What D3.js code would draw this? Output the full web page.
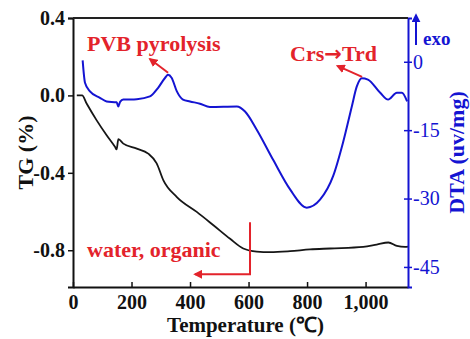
<!DOCTYPE html>
<html>
<head>
<meta charset="utf-8">
<script src="https://cdn.jsdelivr.net/npm/d3@7"></script>
<style>
  body { margin: 0; background: #fff; }
  svg text { font-family: "Liberation Serif", "Times New Roman", serif; }
</style>
</head>
<body>
<svg id="chart" width="470" height="339"></svg>
<script>
// TG curve (temperature, %)
let tgTemp = [13, 31, 47, 81, 115, 144, 149, 155, 172, 218, 257, 286, 309, 355, 423, 480, 537, 582, 628, 674, 742, 810, 879, 992, 1038, 1078, 1107, 1135, 1145];
let tgVal  = [0, 0, -0.043, -0.129, -0.206, -0.267, -0.279, -0.226, -0.249, -0.275, -0.301, -0.351, -0.439, -0.525, -0.602, -0.671, -0.741, -0.791, -0.807, -0.810, -0.805, -0.796, -0.791, -0.783, -0.771, -0.760, -0.778, -0.783, -0.781];

// DTA curve (temperature, uv/mg)
let dtaTemp = [33, 41, 58, 92, 115, 149, 155, 161, 172, 218, 263, 291, 315, 325, 337, 355, 376, 400, 434, 468, 560, 588, 628, 684, 742, 799, 845, 889, 923, 953, 970, 987, 1008, 1050, 1077, 1107, 1124, 1142];
let dtaVal  = [0.3, -4.6, -6.5, -7.9, -8.7, -8.9, -9.8, -8.8, -8.3, -8.2, -7.6, -5.7, -3.5, -2.85, -3.5, -6.5, -8.3, -8.7, -9.2, -9.9, -9.8, -10.9, -14.9, -21.5, -28.0, -32.0, -30.2, -25.1, -17.7, -9.8, -5.4, -3.6, -3.9, -6.8, -8.3, -6.8, -6.8, -8.7];

let xTicks = [0, 200, 400, 600, 800, 1000];
let tgTicks = [0.4, 0.0, -0.4, -0.8];
let dtaTicks = [0, -15, -30, -45];

let red = "#e3232b", blue = "#1414d2";
let margin = {top: 18, right: 62, bottom: 52, left: 73};
let width = 470 - margin.left - margin.right;
let height = 339 - margin.top - margin.bottom;

let x = d3.scaleLinear().domain([0, 1145]).range([0, width]);
let yTG = d3.scaleLinear().domain([-0.99, 0.4]).range([height, 0]);
let yDTA = d3.scaleLinear().domain([-49.4, 9.6]).range([height, 0]);

let svg = d3.select("svg#chart");
svg.append("defs").selectAll("marker")
  .data([["redHead", red], ["blueHead", blue]])
  .enter().append("marker")
    .attr("id", function(d) { return d[0]; })
    .attr("viewBox", "0 0 10 10")
    .attr("refX", 8).attr("refY", 5)
    .attr("markerWidth", 4.5).attr("markerHeight", 4.5)
    .attr("orient", "auto")
  .append("path")
    .attr("d", "M0,0 L10,5 L0,10 Z")
    .attr("fill", function(d) { return d[1]; });

let g = svg.append("g").attr("transform", "translate(" + margin.left + "," + margin.top + ")");

// curves
let tgData = tgTemp.map(function(t, i) { return [t, tgVal[i]]; });
let dtaData = dtaTemp.map(function(t, i) { return [t, dtaVal[i]]; });

g.append("path").datum(tgData)
  .attr("fill", "none").attr("stroke", "#161616").attr("stroke-width", 1.8)
  .attr("d", d3.line().curve(d3.curveMonotoneX)
    .x(function(d) { return x(d[0]); }).y(function(d) { return yTG(d[1]); }));

g.append("path").datum(dtaData)
  .attr("fill", "none").attr("stroke", blue).attr("stroke-width", 2)
  .attr("d", d3.line().curve(d3.curveMonotoneX)
    .x(function(d) { return x(d[0]); }).y(function(d) { return yDTA(d[1]); }));

// axes (hyphen minus like the original)
let fmtTG = function(d) { return d3.format(".1f")(d).replace("\u2212", "-"); };
let fmtDTA = function(d) { return d3.format("d")(d).replace("\u2212", "-"); };

let xAxis = g.append("g").attr("transform", "translate(0," + height + ")")
  .call(d3.axisBottom(x).tickValues(xTicks).tickSizeInner(-5).tickSizeOuter(0).tickPadding(8));
xAxis.selectAll("text").attr("font-size", 20).attr("font-weight", "bold").attr("fill", "#111");

let yAxisL = g.append("g")
  .call(d3.axisLeft(yTG).tickValues(tgTicks).tickFormat(fmtTG).tickSizeOuter(0).tickSize(5).tickPadding(3));
yAxisL.selectAll("text").attr("font-size", 20).attr("font-weight", "bold").attr("fill", "#111");

let yAxisR = g.append("g").attr("transform", "translate(" + width + ",0)")
  .call(d3.axisRight(yDTA).tickValues(dtaTicks).tickFormat(fmtDTA).tickSizeOuter(0).tickSize(4).tickPadding(1));
yAxisR.selectAll("text").attr("font-size", 20).attr("fill", blue);
yAxisR.selectAll(".tick line").attr("x1", -4).attr("stroke", blue).attr("stroke-width", 1.5);
yAxisR.select(".domain").attr("stroke", blue);

[xAxis, yAxisL].forEach(function(a) {
  a.selectAll(".tick line").attr("stroke", "#111").attr("stroke-width", 1.5);
  a.select(".domain").attr("stroke", "#111");
});
g.selectAll(".domain").attr("stroke-width", 2);

// top frame
g.append("line").attr("x1", 0).attr("x2", width).attr("y1", 0).attr("y2", 0)
  .attr("stroke", "#222").attr("stroke-width", 2);

// exo arrow
g.append("line").attr("x1", width + 8).attr("x2", width + 8)
  .attr("y1", 27).attr("y2", -3)
  .attr("stroke", blue).attr("stroke-width", 2).attr("marker-end", "url(#blueHead)");
g.append("text").attr("x", width + 15).attr("y", 27)
  .attr("font-size", 19).attr("font-weight", "bold").attr("fill", blue).text("exo");

// axis titles
svg.append("text").attr("x", margin.left + width / 2 + 5).attr("y", 332)
  .attr("text-anchor", "middle").attr("font-size", 21).attr("font-weight", "bold").attr("fill", "#111")
  .text("Temperature (\u2103)");
svg.append("text").attr("transform", "translate(33," + (margin.top + height / 2) + ") rotate(-90)")
  .attr("text-anchor", "middle").attr("font-size", 22).attr("font-weight", "bold").attr("fill", "#111")
  .text("TG (%)");
svg.append("text").attr("transform", "translate(464," + (margin.top + height / 2) + ") rotate(-90)")
  .attr("text-anchor", "middle").attr("font-size", 22).attr("font-weight", "bold").attr("fill", blue)
  .text("DTA (uv/mg)");

// annotations
let notes = [
  {pre: "PVB pyrolysis", arrow: "", post: "", t: 48, v: 0.232},
  {pre: "Crs", arrow: "\u2192", post: "Trd", t: 742, v: 0.18},
  {pre: "water, organic", arrow: "", post: "", t: 48, v: -0.837}
];
let noteText = g.selectAll("text.note").data(notes).enter().append("text")
  .attr("class", "note")
  .attr("x", function(d) { return x(d.t); })
  .attr("y", function(d) { return yTG(d.v); })
  .attr("font-size", 22).attr("font-weight", "bold").attr("fill", red);
noteText.append("tspan").text(function(d) { return d.pre; });
noteText.append("tspan").style("font-family", "'DejaVu Sans', sans-serif").attr("font-size", 21)
  .text(function(d) { return d.arrow; });
noteText.append("tspan").text(function(d) { return d.post; });

// arrows (DTA units)
let arrows = [
  {t1: 325, d1: -2.4, t2: 263, d2: 0.6},
  {t1: 988, d1: -3.3, t2: 904, d2: -0.9}
];
g.selectAll("line.arrow").data(arrows).enter().append("line")
  .attr("class", "arrow")
  .attr("x1", function(d) { return x(d.t1); }).attr("y1", function(d) { return yDTA(d.d1); })
  .attr("x2", function(d) { return x(d.t2); }).attr("y2", function(d) { return yDTA(d.d2); })
  .attr("stroke", red).attr("stroke-width", 2).attr("marker-end", "url(#redHead)");

// bracket (TG units)
g.append("path")
  .attr("d", "M" + x(605) + "," + yTG(-0.655) + "V" + yTG(-0.924) + "H" + x(417))
  .attr("fill", "none").attr("stroke", red).attr("stroke-width", 2).attr("marker-end", "url(#redHead)");
</script>
</body>
</html>
